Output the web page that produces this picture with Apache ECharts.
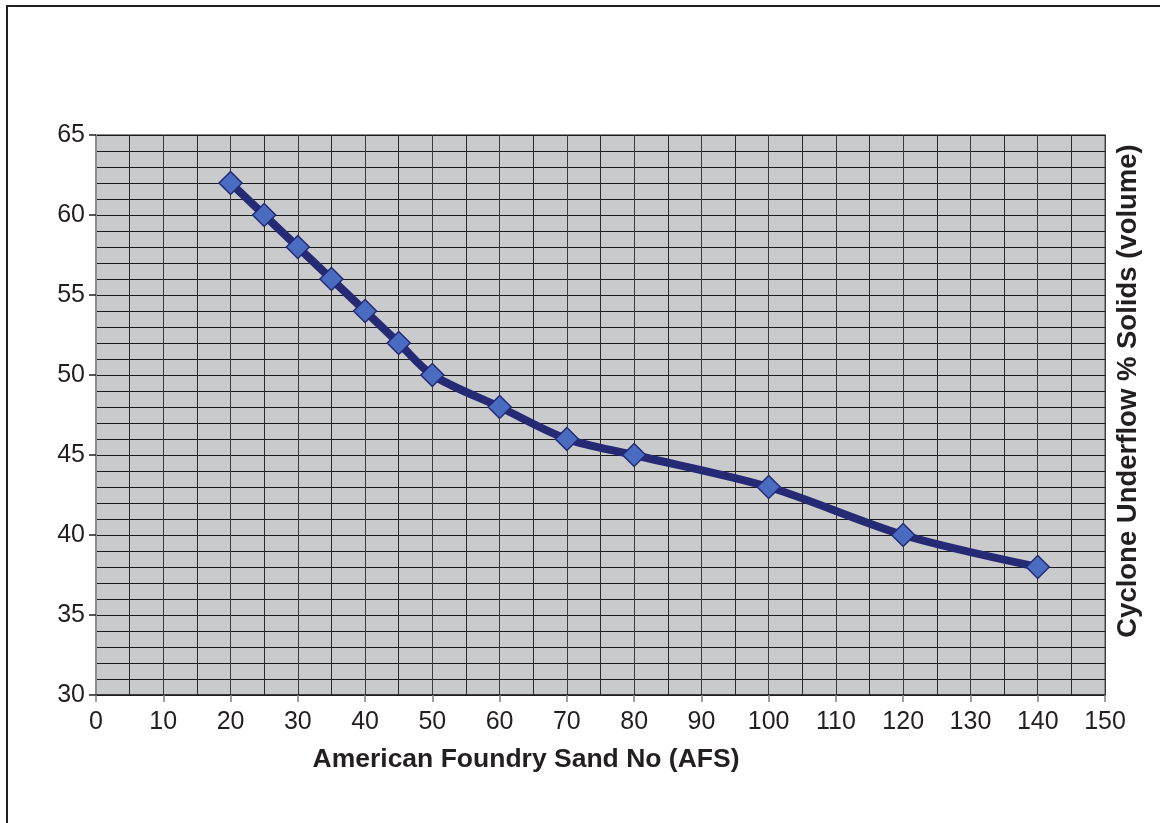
<!DOCTYPE html>
<html>
<head>
<meta charset="utf-8">
<style>
  html, body { margin: 0; padding: 0; background: #ffffff; }
  #chart { width: 1160px; height: 823px; }
</style>
<script src="https://cdn.jsdelivr.net/npm/echarts@6/dist/echarts.min.js"></script>
</head>
<body>
<div id="chart"></div>
<script>
// Data
const afsNumbers = [20, 25, 30, 35, 40, 45, 50, 60, 70, 80, 100, 120, 140];
const underflowSolids = [62, 60, 58, 56, 54, 52, 50, 48, 46, 45, 43, 40, 38];
const xAxisTitle = 'American Foundry Sand No (AFS)';
const yAxisTitle = 'Cyclone Underflow % Solids (volume)';

const points = afsNumbers.map((x, i) => [x, underflowSolids[i]]);
const FONT = "'Liberation Sans', Arial, Helvetica, sans-serif";
const TEXT = '#231f20';

const chart = echarts.init(document.getElementById('chart'), null, { renderer: 'canvas' });
chart.setOption({
  animation: false,
  backgroundColor: '#ffffff',
  grid: {
    left: 96, top: 135, width: 1009, height: 560,
    show: true,
    backgroundColor: '#c9cacc',
    borderColor: '#8c8c8c',
    borderWidth: 2
  },
  xAxis: {
    type: 'value',
    min: 0, max: 150, interval: 10,
    axisLine: { show: true, lineStyle: { color: '#231f20', width: 1.5 } },
    axisTick: { show: true, inside: false, length: 7, lineStyle: { color: '#808080', width: 1.5 } },
    axisLabel: { fontSize: 25, color: TEXT, fontFamily: FONT, margin: 15 },
    splitLine: { show: true, lineStyle: { color: '#3a3a3a', width: 1 } },
    minorTick: { show: false, splitNumber: 2 },
    minorSplitLine: { show: true, lineStyle: { color: '#2a2a2a', width: 1 } }
  },
  yAxis: {
    type: 'value',
    min: 30, max: 65, interval: 5,
    axisLine: { show: true, lineStyle: { color: '#8c8c8c', width: 2 } },
    axisTick: { show: true, inside: false, length: 7, lineStyle: { color: '#231f20', width: 1.5 } },
    axisLabel: { fontSize: 25, color: TEXT, fontFamily: FONT, margin: 11 },
    splitLine: { show: true, lineStyle: { color: '#1a1a1a', width: 1 } },
    minorTick: { show: false, splitNumber: 5 },
    minorSplitLine: { show: true, lineStyle: { color: '#1a1a1a', width: 1 } }
  },
  series: [{
    type: 'line',
    data: points,
    smooth: 0.3,
    lineStyle: { color: '#262a75', width: 8 },
    symbol: 'diamond',
    symbolSize: 23,
    itemStyle: { color: '#4a6cc0', borderColor: '#262a75', borderWidth: 1.5 },
    z: 5
  }],
  graphic: [
    {
      type: 'rect',
      shape: { x: 7, y: 6, width: 1300, height: 1000 },
      style: { fill: 'none', stroke: '#231f20', lineWidth: 2 },
      silent: true
    },
    {
      type: 'text',
      x: 526, y: 760,
      style: {
        text: xAxisTitle, fill: TEXT, font: "bold 26.5px " + FONT,
        textAlign: 'center', textVerticalAlign: 'middle'
      }
    },
    {
      type: 'text',
      x: 1128, y: 391,
      rotation: Math.PI / 2,
      style: {
        text: yAxisTitle, fill: TEXT, font: "bold 27.5px " + FONT,
        textAlign: 'center', textVerticalAlign: 'middle'
      }
    }
  ]
});
</script>
</body>
</html>
